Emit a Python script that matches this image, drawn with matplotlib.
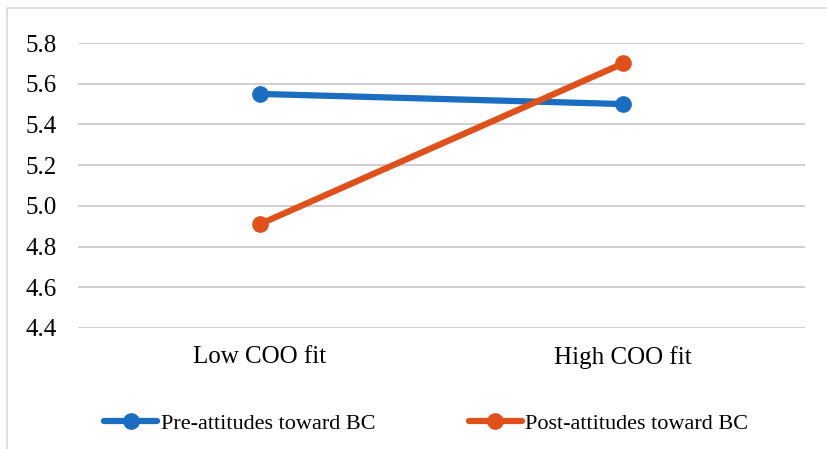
import matplotlib.pyplot as plt
from matplotlib.patches import Rectangle

# data
categories = ['Low COO fit', 'High COO fit']
pre_attitudes = [5.55, 5.50]
post_attitudes = [4.91, 5.70]
yticks = [4.4, 4.6, 4.8, 5.0, 5.2, 5.4, 5.6, 5.8]

plt.rcParams['font.family'] = ['Liberation Serif', 'DejaVu Serif']

fig = plt.figure(figsize=(8.28, 4.49), dpi=100)
ax = fig.add_axes([78 / 828, 1 - 328 / 449, 727 / 828, 285 / 449])

x = list(range(len(categories)))
ax.plot(x, pre_attitudes, color='#1A6DC0', lw=4.5, marker='o', ms=11,
        label='Pre-attitudes toward BC', solid_capstyle='round')
ax.plot(x, post_attitudes, color='#E0501A', lw=4.5, marker='o', ms=11,
        label='Post-attitudes toward BC', solid_capstyle='round')

ax.set_xlim(-0.5, 1.5)
ax.set_ylim(4.4, 5.8)
ax.set_yticks(yticks)
ax.set_yticklabels(['%.1f' % t for t in yticks])
ax.set_xticks(x)
ax.set_xticklabels(categories)
ax.tick_params(axis='y', length=0, pad=15, labelsize=18)
ax.tick_params(axis='x', length=0, pad=13, labelsize=18)
ax.grid(axis='y', color='#CFCFCF', lw=1.4)
ax.set_axisbelow(True)
for s in ax.spines.values():
    s.set_visible(False)

ax.legend(loc='center', bbox_to_anchor=(0.479, -0.335), ncol=2, frameon=False,
          fontsize=16, handlelength=2.4, handletextpad=0.15, columnspacing=4.2)

# outer frame like the exported chart
fig.patches.append(Rectangle((7 / 828, -0.01), 1.2, 1 - 8 / 449 + 0.01,
                             transform=fig.transFigure, fill=False,
                             ec='#D9D9D9', lw=1.2))

fig.savefig('out.png', dpi=100)
